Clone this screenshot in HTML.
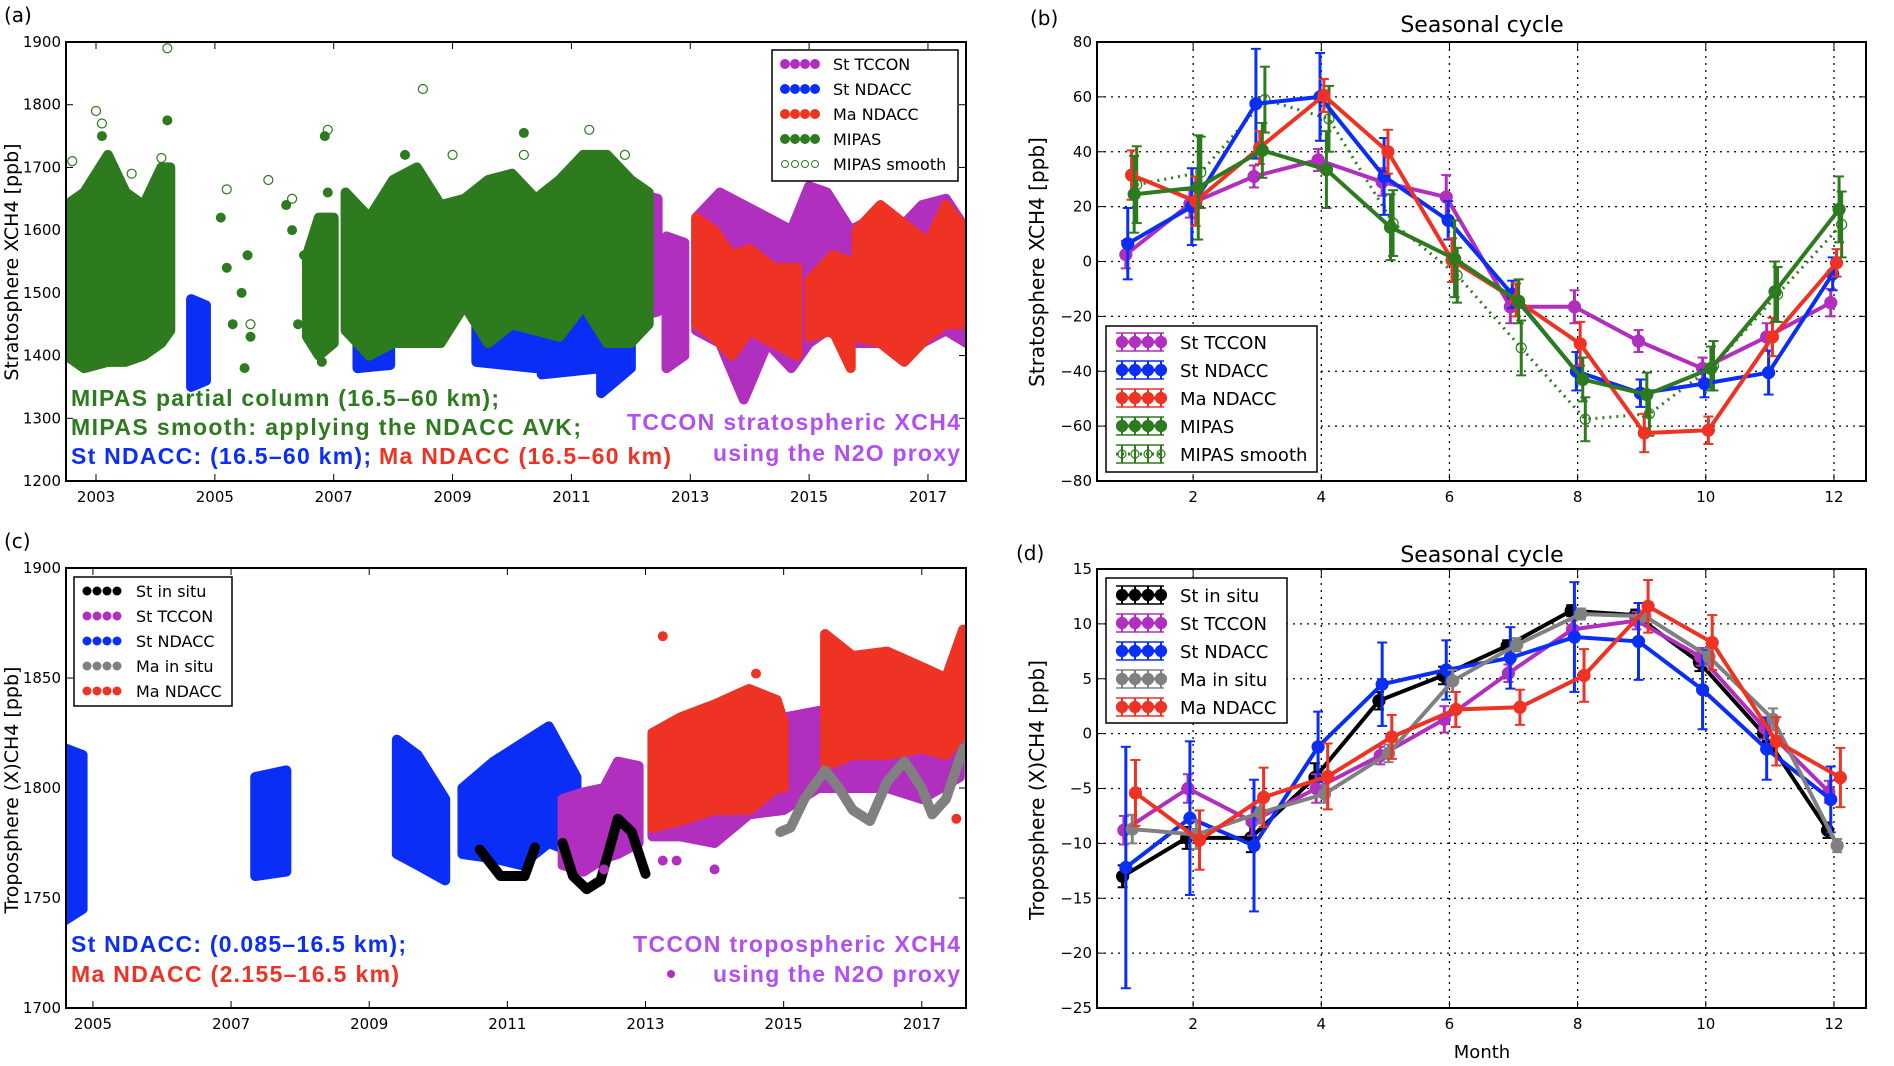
<!DOCTYPE html>
<html><head><meta charset="utf-8"><title>XCH4 seasonal cycles</title>
<style>
html,body{margin:0;padding:0;background:#fff;}
svg{display:block;font-family:"DejaVu Sans","Liberation Sans",sans-serif;}
.tk{font-size:15px;fill:#000;}
.lg{font-size:18px;fill:#000;}
.ann{font-family:"Liberation Sans",sans-serif;font-weight:bold;font-size:23px;}
</style></head>
<body>
<svg id="fig" width="1894" height="1066" viewBox="0 0 1894 1066" xmlns="http://www.w3.org/2000/svg">
<defs>
<clipPath id="clipA"><rect x="66" y="42" width="900" height="439"/></clipPath>
<clipPath id="clipC"><rect x="66" y="568" width="900" height="440"/></clipPath>
</defs>
</svg>
<script>
// ---------- Panel (a) data: stratosphere time series envelopes ----------
const aMipasT1=[2002.5,2002.8,2003.2,2003.5,2003.8,2004.1,2004.25];
const aMipasLo1=[1400,1380,1390,1390,1400,1420,1440];
const aMipasHi1=[1640,1660,1720,1660,1640,1700,1700];
const aMipasT2=[2006.55,2006.75,2007.0];
const aMipasLo2=[1430,1400,1420];
const aMipasHi2=[1560,1620,1620];
const aMipasT3=[2007.2,2007.6,2008.0,2008.4,2008.8,2009.2,2009.6,2010.0,2010.4,2010.8,2011.2,2011.6,2012.0,2012.3];
const aMipasLo3=[1440,1400,1420,1420,1420,1480,1420,1450,1440,1430,1480,1420,1420,1450];
const aMipasHi3=[1660,1620,1680,1700,1640,1650,1680,1690,1650,1680,1720,1720,1680,1660];
const aMipasPtT=[2005.1,2005.2,2005.3,2005.45,2005.5,2005.55,2005.6,2006.2,2006.3,2006.4,2006.5,2006.6,2006.7,2006.85,2006.9,2006.8,2003.1,2004.2,2008.2,2010.2];
const aMipasPtV=[1620,1540,1450,1500,1380,1560,1430,1640,1600,1450,1560,1520,1480,1750,1660,1390,1750,1775,1720,1755];
const aSmoothT=[2003.0,2003.1,2003.3,2002.6,2004.1,2004.2,2006.9,2008.5,2010.2,2011.3,2005.2,2005.9,2009.0,2005.6,2011.9,2003.6,2006.3];
const aSmoothV=[1790,1770,1700,1710,1715,1890,1760,1825,1720,1760,1665,1680,1720,1450,1720,1690,1650];
const aBlueT=[[2004.6,2004.85],[2007.4,2007.95],[2009.4,2010.4],[2010.5,2011.5],[2011.5,2012.0]];
const aBlueLo=[[1350,1360],[1380,1385],[1390,1380],[1370,1380],[1340,1380]];
const aBlueHi=[[1490,1480],[1500,1490],[1520,1500],[1540,1560],[1550,1540]];
const aTcconT=[[2012.0,2012.45],[2012.6,2012.9],[2013.1,2013.5,2013.9,2014.3,2014.7,2015.0,2015.3,2015.7,2016.1,2016.5,2016.9,2017.3,2017.65]];
const aTcconLo=[[1460,1470],[1380,1400],[1440,1420,1330,1420,1380,1420,1440,1420,1420,1420,1420,1440,1420]];
const aTcconHi=[[1660,1650],[1590,1580],[1620,1660,1640,1620,1600,1670,1660,1600,1620,1600,1640,1650,1600]];
const aRedT=[[2013.1,2013.4,2013.7,2014.0,2014.4,2014.8],[2015.0,2015.4,2015.7],[2015.8,2016.2,2016.6,2017.0,2017.3,2017.65]];
const aRedLo=[[1450,1430,1400,1440,1420,1400],[1430,1440,1380],[1430,1420,1390,1430,1450,1450]];
const aRedHi=[[1620,1600,1560,1570,1540,1540],[1520,1560,1550],[1600,1640,1610,1580,1640,1600]];
const aYTicks=[1200,1300,1400,1500,1600,1700,1800,1900];
const aXTicks=[2003,2005,2007,2009,2011,2013,2015,2017];

// ---------- Panel (c) data: troposphere time series ----------
const cBlueT=[[2004.6,2004.85],[2007.35,2007.8],[2009.4,2009.7,2010.1],[2010.35,2010.8,2011.2,2011.6,2012.0]];
const cBlueLo=[[1740,1745],[1760,1762],[1770,1765,1758],[1770,1768,1765,1775,1770]];
const cBlueHi=[[1818,1815],[1805,1808],[1822,1815,1795],[1800,1812,1820,1828,1805]];
const cTcconT=[[2011.8,2012.1,2012.4,2012.6,2012.9],[2013.1,2013.5,2014.0,2014.5,2015.0,2015.5,2016.0,2016.5,2017.0,2017.55]];
const cTcconLo=[[1765,1762,1768,1770,1775],[1778,1778,1775,1788,1790,1800,1800,1800,1795,1805]];
const cTcconHi=[[1795,1798,1800,1812,1810],[1810,1815,1825,1835,1832,1835,1835,1832,1838,1835]];
const cRedT=[[2013.1,2013.5,2014.0,2014.5,2014.9,2015.0],[2015.6,2016.0,2016.5,2017.0,2017.35,2017.6]];
const cRedLo=[[1782,1785,1790,1790,1800,1800],[1810,1815,1815,1818,1815,1825]];
const cRedHi=[[1825,1832,1838,1845,1840,1830],[1870,1860,1862,1855,1850,1872]];
const cInsituT=[[2010.6,2010.9,2011.25,2011.4],[2011.8,2011.95,2012.15,2012.35,2012.6,2012.8,2013.0]];
const cInsituV=[[1772,1760,1760,1773],[1775,1760,1754,1758,1786,1780,1761]];
const cMaInsituT=[2014.95,2015.1,2015.3,2015.6,2015.8,2016.0,2016.25,2016.5,2016.75,2017.0,2017.15,2017.35,2017.6];
const cMaInsituV=[1780,1782,1795,1808,1800,1790,1785,1803,1812,1800,1788,1795,1818];
const cRedPtT=[2013.25,2014.6,2017.5];
const cRedPtV=[1869,1852,1786];
const cTcconPtT=[2013.25,2013.45,2014.0,2012.4];
const cTcconPtV=[1767,1767,1763,1763];
const cYTicks=[1700,1750,1800,1850,1900];
const cXTicks=[2005,2007,2009,2011,2013,2015,2017];

// ---------- Panel (b) data: stratosphere seasonal cycle ----------
const months=[1,2,3,4,5,6,7,8,9,10,11,12];
const bTccon=[2.5,21,31,37,29,23.5,-16.5,-16.5,-29,-39,-27.5,-15];
const bTcconErr=[5,5,4,4,5,8,6,6,4,4,5,5];
const bNdacc=[6.5,20,57.5,60,31,15,-12,-40,-48,-44.5,-40.5,-4.5];
const bNdaccErr=[13,14,20,16,14,7,5,7,5,5,8,6];
const bMaNdacc=[31.5,22,41.5,60.5,40,0.5,-14,-30,-62.5,-61.5,-27.5,-0.5];
const bMaNdaccErr=[9,9,6,6,8,8,6,8,7,5,7,5];
const bMipas=[24.5,27,40.5,33.5,12.5,1,-14.5,-43,-48.5,-39,-11,19];
const bMipasErr=[14,19,10,14,12,14,8,8,8,8,11,12];
const bSmooth=[28,32.5,59,52,14,-5,-31.5,-57.5,-55.5,-38,-12,13.5];
const bSmoothErr=[14,13,12,12,12,10,10,8,8,9,10,12];
const bYTicks=[-80,-60,-40,-20,0,20,40,60,80];
const mTicks=[2,4,6,8,10,12];

// ---------- Panel (d) data: troposphere seasonal cycle ----------
const dInsitu=[-13,-9.5,-9.5,-4,3,5.3,8,11.2,10.8,6.5,0,-8.8];
const dInsituErr=[1,1,1.3,1.3,0.8,0.8,0.5,0.5,0.5,0.8,0.8,0.7];
const dTccon=[-8.8,-5,-8,-5,-2,1.3,5.5,9.5,10.3,7,0.5,-5.3];
const dTcconErr=[1.3,1.3,1.3,1.3,0.8,1.2,0.8,0.8,0.8,0.8,1,1];
const dNdacc=[-12.2,-7.7,-10.2,-1.2,4.5,5.8,6.9,8.8,8.4,4,-1.4,-6];
const dNdaccErr=[11,7,6,3.2,3.8,2.7,2.8,5,3.5,3.6,2.8,3];
const dMaInsitu=[-8.7,-9.2,-7.2,-5.5,-1.8,4.8,8.1,10.9,10.7,7,1.3,-10.2];
const dMaInsituErr=[1.3,1.3,1,0.8,0.8,1,0.6,0.5,0.5,0.8,1,0.6];
const dMaNdacc=[-5.4,-9.7,-5.8,-3.9,-0.3,2.2,2.4,5.3,11.6,8.3,-0.7,-4];
const dMaNdaccErr=[3,2.7,2.7,3,2,1.6,1.6,2.4,2.4,2.5,2.2,2.7];
const dYTicks=[-25,-20,-15,-10,-5,0,5,10,15];

const GREEN='#2d7a1f',BLUE='#0a2ef5',RED='#ee3224',PURPLE='#b02fbe',GREY='#808080',BLACK='#000';
const svg=document.getElementById('fig');
const NS='http://www.w3.org/2000/svg';
function mk(tag,attrs,name,parent){
  const el=document.createElementNS(NS,tag);
  for(const k in attrs) el.setAttribute(k,attrs[k]);
  
  
  (parent||svg).appendChild(el);
  return el;
}
function txt(s,x,y,name,attrs,parent){const t=mk('text',Object.assign({x:x,y:y},attrs||{}),name,parent);t.textContent=s;return t;}
function axis(x0,x1,y0,y1,xd,yd){
  return {x0,x1,y0,y1,
    X:v=>x0+(v-xd[0])/(xd[1]-xd[0])*(x1-x0),
    Y:v=>y1-(v-yd[0])/(yd[1]-yd[0])*(y1-y0)};
}
const A=axis(66,966,42,481,[2002.495,2017.64],[1200,1900]);
const B=axis(1097,1866,42,481,[0.5,12.5],[-80,80]);
const C=axis(66,966,568,1008,[2004.61,2017.64],[1700,1900]);
const D=axis(1097,1866,569,1008,[0.5,12.5],[-25,15]);

function frame(P,xt,yt,xlab,ylab,grid,key){
  if(grid){
    xt.forEach(v=>{mk('line',{x1:P.X(v),x2:P.X(v),y1:P.y0,y2:P.y1,stroke:'#000','stroke-width':1.3,'stroke-dasharray':'2,5'},key+'-x-grid');});
    yt.forEach(v=>{mk('line',{x1:P.x0,x2:P.x1,y1:P.Y(v),y2:P.Y(v),stroke:'#000','stroke-width':1.3,'stroke-dasharray':'2,5'},key+'-y-grid');});
  }
  xt.forEach(v=>{
    mk('line',{x1:P.X(v),x2:P.X(v),y1:P.y1,y2:P.y1-7,stroke:'#000','stroke-width':1},key+'-x-tick');
    mk('line',{x1:P.X(v),x2:P.X(v),y1:P.y0,y2:P.y0+7,stroke:'#000','stroke-width':1},key+'-x-tick-top');
    txt(xlab?xlab(v):String(v),P.X(v),P.y1+21,key+'-x-tick-label',{class:'tk','text-anchor':'middle'});
  });
  yt.forEach(v=>{
    mk('line',{x1:P.x0,x2:P.x0+7,y1:P.Y(v),y2:P.Y(v),stroke:'#000','stroke-width':1},key+'-y-tick');
    mk('line',{x1:P.x1,x2:P.x1-7,y1:P.Y(v),y2:P.Y(v),stroke:'#000','stroke-width':1},key+'-y-tick-right');
    txt(String(v).replace('-','\u2212'),P.x0-5,P.Y(v)+5,key+'-y-tick-label',{class:'tk','text-anchor':'end'});
  });
}
function border(P,key){mk('rect',{x:P.x0,y:P.y0,width:P.x1-P.x0,height:P.y1-P.y0,fill:'none',stroke:'#000','stroke-width':2},key+'-axes-frame');}

function cloud(P,T,LO,HI,color,name,g){
  const up=T.map((t,i)=>P.X(t)+','+P.Y(HI[i]));
  const dn=T.map((t,i)=>P.X(t)+','+P.Y(LO[i])).reverse();
  mk('polygon',{points:up.concat(dn).join(' '),fill:color,stroke:color,'stroke-width':10,'stroke-linejoin':'round'},name,g);
}
function pts(P,T,V,color,name,g,open){
  T.forEach((t,i)=>{mk('circle',{cx:P.X(t),cy:P.Y(V[i]),r:open?4.5:5,fill:open?'none':color,stroke:color,'stroke-width':open?1.2:0},name,g);});
}
function ribbon(P,T,V,color,name,g){
  mk('polyline',{points:T.map((t,i)=>P.X(t)+','+P.Y(V[i])).join(' '),fill:'none',stroke:color,'stroke-width':10,'stroke-linejoin':'round','stroke-linecap':'round'},name,g);
}

// ===== Panel (a) =====
txt('(a)',4,22,'panel-a-label',{style:'font-size:20px'});
frame(A,aXTicks,aYTicks,null,null,false,'a');
const gA=mk('g',{'clip-path':'url(#clipA)'},'panel-a-series');
aBlueT.forEach((T,i)=>cloud(A,T,aBlueLo[i],aBlueHi[i],BLUE,'st-ndacc-strat-cloud',gA));
aTcconT.forEach((T,i)=>cloud(A,T,aTcconLo[i],aTcconHi[i],PURPLE,'st-tccon-strat-cloud',gA));
aRedT.forEach((T,i)=>cloud(A,T,aRedLo[i],aRedHi[i],RED,'ma-ndacc-strat-cloud',gA));
cloud(A,aMipasT1,aMipasLo1,aMipasHi1,GREEN,'mipas-cloud',gA);
cloud(A,aMipasT2,aMipasLo2,aMipasHi2,GREEN,'mipas-cloud',gA);
cloud(A,aMipasT3,aMipasLo3,aMipasHi3,GREEN,'mipas-cloud',gA);
pts(A,aMipasPtT,aMipasPtV,GREEN,'mipas-point',gA,false);
pts(A,aSmoothT,aSmoothV,GREEN,'mipas-smooth-point',gA,true);
border(A,'a');
txt('Stratosphere XCH4 [ppb]',0,0,'a-y-axis-title',{transform:'translate(18,262) rotate(-90)','text-anchor':'middle',style:'font-size:19px'});
const legA=mk('g',{},'legend-a');
mk('rect',{x:772,y:50,width:186,height:131,fill:'#fff',stroke:'#000','stroke-width':1.5},'legend-a-box',legA);
[['St TCCON',PURPLE,0],['St NDACC',BLUE,0],['Ma NDACC',RED,0],['MIPAS',GREEN,0],['MIPAS smooth',GREEN,1]].forEach((e,i)=>{
  const y=64+i*25;
  for(let k=0;k<4;k++) mk('circle',{cx:785+k*10,cy:y,r:e[2]?3.5:4.5,fill:e[2]?'none':e[1],stroke:e[1],'stroke-width':1},'legend-a-marker',legA);
  txt(e[0],833,y+6,'legend-a-entry',{class:'lg',style:'font-size:16px'},legA);
});
txt('MIPAS partial column (16.5\u201360 km);',71,406,'a-annotation-mipas',{class:'ann',fill:GREEN,textLength:428});
txt('MIPAS smooth: applying the NDACC AVK;',71,435,'a-annotation-smooth',{class:'ann',fill:GREEN,textLength:510});
txt('St NDACC: (16.5\u201360 km);',71,464,'a-annotation-st-ndacc',{class:'ann',fill:BLUE,textLength:300});
txt('Ma NDACC (16.5\u201360 km)',379,464,'a-annotation-ma-ndacc',{class:'ann',fill:RED,textLength:292});
txt('TCCON stratospheric XCH4',960,430,'a-annotation-tccon',{class:'ann',fill:'#b24ff0','text-anchor':'end',textLength:333});
txt('using the N2O proxy',960,461,'a-annotation-tccon-2',{class:'ann',fill:'#b24ff0','text-anchor':'end',textLength:247});

// ===== Panel (c) =====
txt('(c)',4,548,'panel-c-label',{style:'font-size:20px'});
frame(C,cXTicks,cYTicks,null,null,false,'c');
const gC=mk('g',{'clip-path':'url(#clipC)'},'panel-c-series');
cBlueT.forEach((T,i)=>cloud(C,T,cBlueLo[i],cBlueHi[i],BLUE,'st-ndacc-trop-cloud',gC));
cTcconT.forEach((T,i)=>cloud(C,T,cTcconLo[i],cTcconHi[i],PURPLE,'st-tccon-trop-cloud',gC));
cRedT.forEach((T,i)=>cloud(C,T,cRedLo[i],cRedHi[i],RED,'ma-ndacc-trop-cloud',gC));
cInsituT.forEach((T,i)=>ribbon(C,T,cInsituV[i],BLACK,'st-insitu-line',gC));
ribbon(C,cMaInsituT,cMaInsituV,GREY,'ma-insitu-line',gC);
pts(C,cRedPtT,cRedPtV,RED,'ma-ndacc-point',gC,false);
pts(C,cTcconPtT,cTcconPtV,PURPLE,'st-tccon-point',gC,false);
border(C,'c');
txt('Troposphere (X)CH4 [ppb]',0,0,'c-y-axis-title',{transform:'translate(18,790) rotate(-90)','text-anchor':'middle',style:'font-size:19px'});
const legC=mk('g',{},'legend-c');
mk('rect',{x:74,y:577,width:158,height:129,fill:'#fff',stroke:'#000','stroke-width':1.5},'legend-c-box',legC);
[['St in situ',BLACK],['St TCCON',PURPLE],['St NDACC',BLUE],['Ma in situ',GREY],['Ma NDACC',RED]].forEach((e,i)=>{
  const y=591+i*25;
  for(let k=0;k<4;k++) mk('circle',{cx:87+k*10,cy:y,r:4.5,fill:e[1]},'legend-c-marker',legC);
  txt(e[0],136,y+6,'legend-c-entry',{class:'lg',style:'font-size:16px'},legC);
});
txt('St NDACC: (0.085\u201316.5 km);',71,952,'c-annotation-st-ndacc',{class:'ann',fill:BLUE,textLength:335});
txt('Ma NDACC (2.155\u201316.5 km)',71,982,'c-annotation-ma-ndacc',{class:'ann',fill:RED,textLength:328});
txt('TCCON tropospheric XCH4',960,952,'c-annotation-tccon',{class:'ann',fill:'#b24ff0','text-anchor':'end',textLength:327});
txt('using the N2O proxy',960,982,'c-annotation-tccon-2',{class:'ann',fill:'#b24ff0','text-anchor':'end',textLength:247});
mk('circle',{cx:671,cy:974,r:4,fill:PURPLE},'c-annotation-dot');

// ===== seasonal-cycle helper =====
function errSeries(P,V,E,color,off,name,opts){
  opts=opts||{};
  const g=mk('g',{},name);
  const xs=months.map(m=>P.X(m+off));
  mk('polyline',{points:xs.map((x,i)=>x+','+P.Y(V[i])).join(' '),fill:'none',stroke:color,'stroke-width':opts.dotted?3:4,'stroke-dasharray':opts.dotted?'2,5':'none','stroke-linejoin':'round'},name+'-line',g);
  months.forEach((m,i)=>{
    const x=xs[i],yt=P.Y(V[i]+E[i]),yb=P.Y(V[i]-E[i]);
    mk('line',{x1:x,x2:x,y1:yt,y2:yb,stroke:color,'stroke-width':3},name+'-errorbar',g);
    mk('line',{x1:x-5,x2:x+5,y1:yt,y2:yt,stroke:color,'stroke-width':2},name+'-errorcap',g);
    mk('line',{x1:x-5,x2:x+5,y1:yb,y2:yb,stroke:color,'stroke-width':2},name+'-errorcap',g);
    mk('circle',{cx:x,cy:P.Y(V[i]),r:opts.dotted?5:6,fill:opts.dotted?'none':color,stroke:color,'stroke-width':1.2},name+'-marker',g);
  });
}
function legErr(x,y,color,label,open,name,g){
  for(let k=0;k<4;k++){
    const cx=x+6+k*13;
    mk('line',{x1:cx,x2:cx,y1:y-9,y2:y+9,stroke:color,'stroke-width':2},name+'-bar',g);
    mk('circle',{cx:cx,cy:y,r:open?4:5.5,fill:open?'none':color,stroke:color,'stroke-width':1.2},name+'-marker',g);
  }
  mk('line',{x1:x,x2:x+48,y1:y-9,y2:y-9,stroke:color,'stroke-width':1.5},name+'-cap',g);
  mk('line',{x1:x,x2:x+48,y1:y+9,y2:y+9,stroke:color,'stroke-width':1.5},name+'-cap',g);
  mk('line',{x1:x,x2:x+48,y1:y,y2:y,stroke:color,'stroke-width':3,'stroke-dasharray':open?'2,4':'none'},name+'-line',g);
  txt(label,x+64,y+7,name,{class:'lg'},g);
}

// ===== Panel (b) =====
txt('(b)',1030,25,'panel-b-label',{style:'font-size:20px'});
txt('Seasonal cycle',1482,32,'b-title',{'text-anchor':'middle',style:'font-size:22px'});
frame(B,mTicks,bYTicks,null,null,true,'b');
errSeries(B,bSmooth,bSmoothErr,GREEN,0.12,'mipas-smooth-series',{dotted:true});
errSeries(B,bTccon,bTcconErr,PURPLE,-0.05,'st-tccon-series');
errSeries(B,bNdacc,bNdaccErr,BLUE,-0.02,'st-ndacc-series');
errSeries(B,bMaNdacc,bMaNdaccErr,RED,0.04,'ma-ndacc-series');
errSeries(B,bMipas,bMipasErr,GREEN,0.08,'mipas-series');
border(B,'b');
txt('Stratosphere XCH4 [ppb]',0,0,'b-y-axis-title',{transform:'translate(1044,262) rotate(-90)','text-anchor':'middle',style:'font-size:20px'});
const legB=mk('g',{},'legend-b');
mk('rect',{x:1106,y:326,width:211,height:146,fill:'#fff',stroke:'#000','stroke-width':1.5},'legend-b-box',legB);
legErr(1116,342,PURPLE,'St TCCON',false,'legend-b-st-tccon',legB);
legErr(1116,370,BLUE,'St NDACC',false,'legend-b-st-ndacc',legB);
legErr(1116,398,RED,'Ma NDACC',false,'legend-b-ma-ndacc',legB);
legErr(1116,426,GREEN,'MIPAS',false,'legend-b-mipas',legB);
legErr(1116,454,GREEN,'MIPAS smooth',true,'legend-b-mipas-smooth',legB);

// ===== Panel (d) =====
txt('(d)',1016,560,'panel-d-label',{style:'font-size:20px'});
txt('Seasonal cycle',1482,562,'d-title',{'text-anchor':'middle',style:'font-size:22px'});
frame(D,mTicks,dYTicks,null,null,true,'d');
errSeries(D,dInsitu,dInsituErr,BLACK,-0.1,'st-insitu-series');
errSeries(D,dTccon,dTcconErr,PURPLE,-0.08,'st-tccon-trop-series');
errSeries(D,dNdacc,dNdaccErr,BLUE,-0.05,'st-ndacc-trop-series');
errSeries(D,dMaInsitu,dMaInsituErr,GREY,0.05,'ma-insitu-series');
errSeries(D,dMaNdacc,dMaNdaccErr,RED,0.1,'ma-ndacc-trop-series');
border(D,'d');
txt('Troposphere (X)CH4 [ppb]',0,0,'d-y-axis-title',{transform:'translate(1044,790) rotate(-90)','text-anchor':'middle',style:'font-size:20px'});
txt('Month',1482,1058,'d-x-axis-title',{'text-anchor':'middle',style:'font-size:18px'});
const legD=mk('g',{},'legend-d');
mk('rect',{x:1106,y:578,width:181,height:145,fill:'#fff',stroke:'#000','stroke-width':1.5},'legend-d-box',legD);
legErr(1116,595,BLACK,'St in situ',false,'legend-d-st-insitu',legD);
legErr(1116,623,PURPLE,'St TCCON',false,'legend-d-st-tccon',legD);
legErr(1116,651,BLUE,'St NDACC',false,'legend-d-st-ndacc',legD);
legErr(1116,679,GREY,'Ma in situ',false,'legend-d-ma-insitu',legD);
legErr(1116,707,RED,'Ma NDACC',false,'legend-d-ma-ndacc',legD);
</script>
</body></html>
